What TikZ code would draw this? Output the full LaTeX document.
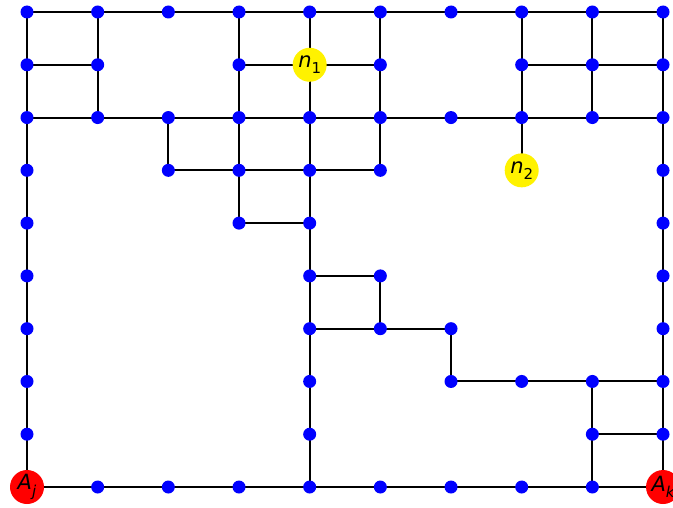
\documentclass[tikz,border=0pt]{standalone}
\usepackage{fontspec}
\newfontfamily\dv{DejaVu Sans}
\newcommand{\lbl}[2]{{\dv\fontsize{21}{23}\selectfont\itshape #1\raisebox{-0.3em}{\fontsize{15}{17}\selectfont #2}}}
\begin{document}
\begin{tikzpicture}[x=1pt,y=1pt,
  v/.style={circle,fill=blue,inner sep=0pt,minimum size=13pt},
  big/.style={circle,inner sep=0pt,minimum size=34pt},
  e/.style={line width=2pt,black}]
\useasboundingbox (0,0) rectangle (673,-508);
\def\X#1{27+70.67*#1}
\def\Y#1{-12-52.78*#1}
\foreach \i/\j in {0/0,1/0,2/0,3/0,4/0,5/0,6/0,7/0,8/0,9/0,
  0/1,1/1,3/1,5/1,7/1,8/1,9/1,
  0/2,1/2,2/2,3/2,4/2,5/2,6/2,7/2,8/2,9/2,
  0/3,2/3,3/3,4/3,5/3,9/3,
  0/4,3/4,4/4,9/4,
  0/5,4/5,5/5,9/5,
  0/6,4/6,5/6,6/6,9/6,
  0/7,4/7,6/7,7/7,8/7,9/7,
  0/8,4/8,8/8,9/8,
  1/9,2/9,3/9,4/9,5/9,6/9,7/9,8/9}
  \coordinate (p\i-\j) at ({\X{\i}},{\Y{\j}});
\coordinate (p4-1) at ({\X{4}},{\Y{1}});
\coordinate (p7-3) at ({\X{7}},{\Y{3}});
\coordinate (p0-9) at ({\X{0}},{\Y{9}});
\coordinate (p9-9) at ({\X{9}},{\Y{9}});
\begin{scope}[e]
% horizontal
\draw (p0-0) -- (p9-0);
\draw (p0-1) -- (p1-1);
\draw (p3-1) -- (p5-1);
\draw (p7-1) -- (p9-1);
\draw (p0-2) -- (p9-2);
\draw (p2-3) -- (p5-3);
\draw (p3-4) -- (p4-4);
\draw (p4-5) -- (p5-5);
\draw (p4-6) -- (p6-6);
\draw (p6-7) -- (p9-7);
\draw (p8-8) -- (p9-8);
\draw (p0-9) -- (p9-9);
% vertical
\draw (p0-0) -- (p0-9);
\draw (p1-0) -- (p1-2);
\draw (p2-2) -- (p2-3);
\draw (p3-0) -- (p3-4);
\draw (p4-0) -- (p4-9);
\draw (p5-0) -- (p5-3);
\draw (p5-5) -- (p5-6);
\draw (p6-6) -- (p6-7);
\draw (p7-0) -- (p7-3);
\draw (p8-0) -- (p8-2);
\draw (p8-7) -- (p8-9);
\draw (p9-0) -- (p9-9);
\end{scope}
% blue nodes
\foreach \i/\j in {0/0,1/0,2/0,3/0,4/0,5/0,6/0,7/0,8/0,9/0,
  0/1,1/1,3/1,5/1,7/1,8/1,9/1,
  0/2,1/2,2/2,3/2,4/2,5/2,6/2,7/2,8/2,9/2,
  0/3,2/3,3/3,4/3,5/3,9/3,
  0/4,3/4,4/4,9/4,
  0/5,4/5,5/5,9/5,
  0/6,4/6,5/6,6/6,9/6,
  0/7,4/7,6/7,7/7,8/7,9/7,
  0/8,4/8,8/8,9/8,
  1/9,2/9,3/9,4/9,5/9,6/9,7/9,8/9}
  \node[v] (n\i-\j) at (p\i-\j) {};
\node[big,fill=yellow] (nA) at (p4-1) {\lbl{n}{\upshape 1}};
\node[big,fill=yellow] (nB) at (p7-3) {\lbl{n}{\upshape 2}};
\node[big,fill=red] (Aj) at (p0-9) {\lbl{A}{j}};
\node[big,fill=red] (Ak) at (p9-9) {\lbl{A}{k}};
\end{tikzpicture}
\end{document}
